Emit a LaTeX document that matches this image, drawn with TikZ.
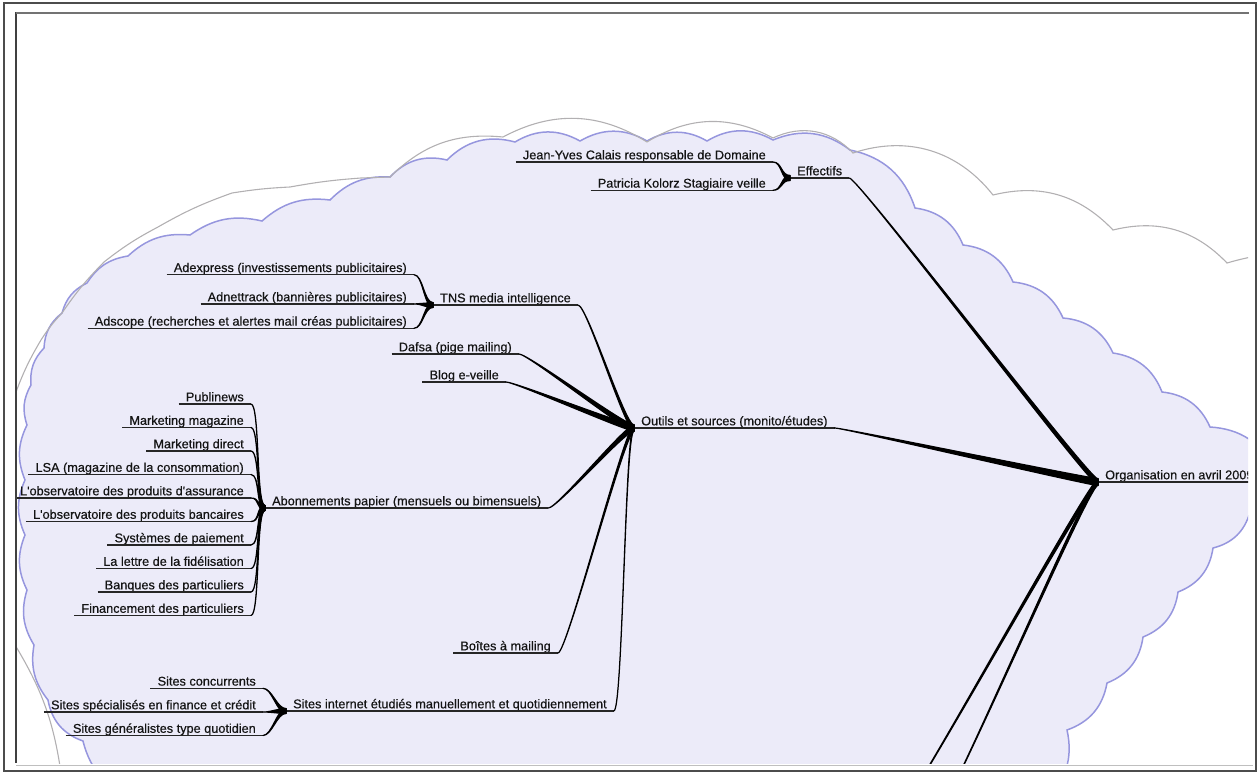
\documentclass[tikz,border=0pt]{standalone}
\usepackage{fontspec}
\setmainfont{Liberation Sans}
\newfontfamily\mapfont{Liberation Sans}[FakeBold=0.5]
\usetikzlibrary{positioning,calc}

\definecolor{cloudfill}{RGB}{236,235,249}
\definecolor{cloudedge}{RGB}{150,150,222}
\definecolor{outeredge}{RGB}{178,176,178}

\tikzset{
  topic/.style={font=\mapfont\fontsize{12.7}{15}\selectfont, text=black!92, inner xsep=7pt, inner ysep=2.5pt,
    text height=9.3pt, text depth=0pt,
    append after command={(\tikzlastnode.south west) edge[black!85, line width=1.3pt] (\tikzlastnode.south east)}},
  branch/.style={fill=black, draw=black, line width=1.2pt, line join=round},
  scallop/.style={bend left=30},
  ripple/.style={bend left=24},
}

% tapered connector: [half width at parent]{child end}{parent end}
\newcommand{\twig}[3][2.4]{%
  \filldraw[branch] (#2) .. controls ($(#2)+(9,0)$) and ($(#3)+(-9,#1)$) .. ($(#3)+(0,#1)$)
    -- ($(#3)+(0,-#1)$) .. controls ($(#3)+(-9,-#1)$) and ($(#2)+(9,0)$) .. cycle;}

\begin{document}
\begin{tikzpicture}[x=1pt, y=-1pt]
  \useasboundingbox (0,0) rectangle (1260,773);

  \begin{scope}
    \clip (17,14) rectangle (1248,763);

    % Clouds
    \filldraw[fill=cloudfill, draw=cloudedge, line width=1.5pt]
      (140,800) to[scallop] (83,741) to[scallop] (48,700) to[ripple] (34,645)
      to[ripple] (27,590) to[ripple] (25,535) to[ripple] (25,480) to[ripple] (27,425) to[ripple] (31,385)
      to[ripple] (44,348) to[ripple] (62,313) to[ripple] (87,283) to[ripple] (128,256)
      to[ripple] (190,235) to[ripple] (262,221) to[ripple] (330,200) to[ripple] (390,177)
      to[scallop] (447,160) to[scallop] (515,142) to[scallop] (580,141) to[scallop] (647,141)
      to[scallop] (707,141) to[scallop] (773,140) to[scallop] (850,150) to[scallop] (915,208)
      to[scallop] (963,245) to[scallop] (1013,282) to[scallop] (1063,318) to[scallop] (1113,353)
      to[scallop] (1162,392) to[scallop] (1210,427) to[scallop] (1275,470) to[scallop] (1250,512)
      to[scallop] (1213,548) to[scallop] (1178,592) to[scallop] (1143,637) to[scallop] (1107,683)
      to[scallop] (1067,730) to[scallop] (1045,800) -- cycle;
    \draw[outeredge, line width=1.1pt]
      (62,780) to[bend right=12] (12,640) to[bend left=20] (-10,520) to[bend left=15] (16,392)
      to[bend left=5] (41,340) to[bend left=5] (62,313) to[bend left=5] (104,262)
      to[bend left=5] (158,227) to[bend left=5] (232,193) to[bend left=3] (290,187)
      to[bend left=3] (361,178) -- (390,177)
      to[bend left=25] (503,137) to[bend left=30] (647,142) to[bend left=30] (773,138)
      to[bend left=36] (853,153) to[bend left=35] (993,195) to[bend left=30] (1113,230)
      to[bend left=30] (1227,263) to[bend left=10] (1300,255);

    % Root
    \node[topic, anchor=south west] (org) at (1098,482) {Organisation en avril 2009};

    % Effectifs
    \node[topic, anchor=south west] (eff) at (790,178) {Effectifs};
    \node[topic, anchor=south east] (calais) at (773,162) {Jean-Yves Calais responsable de Domaine};
    \node[topic, below=13.6pt of calais.south east, anchor=north east] (kolorz) {Patricia Kolorz Stagiaire veille};

    % Outils et sources
    \node[topic, anchor=south west] (outils) at (634,428) {Outils et sources (monito/études)};

    % TNS
    \node[topic, anchor=south west] (tns) at (433,305) {TNS media intelligence};
    \node[topic, anchor=south east] (adnet) at (414,304) {Adnettrack (bannières publicitaires)};
    \node[topic, above=14.6pt of adnet.north east, anchor=south east] (adex) {Adexpress (investissements publicitaires)};
    \node[topic, below=9.6pt of adnet.south east, anchor=north east] (adscope) {Adscope (recherches et alertes mail créas publicitaires)};

    \node[topic, anchor=south east] (dafsa) at (519,354) {Dafsa (pige mailing)};
    \node[topic, anchor=south east] (blog) at (506,382) {Blog e-veille};

    % Abonnements
    \node[topic, anchor=south west] (abo) at (265,508) {Abonnements papier (mensuels ou bimensuels)};
    \node[topic, anchor=south east] (publi) at (251,404) {Publinews};
    \node[topic, below=8.8pt of publi.south east, anchor=north east] (mkmag) {Marketing magazine};
    \node[topic, below=8.8pt of mkmag.south east, anchor=north east] (mkdir) {Marketing direct};
    \node[topic, below=8.8pt of mkdir.south east, anchor=north east] (lsa) {LSA (magazine de la consommation)};
    \node[topic, below=8.8pt of lsa.south east, anchor=north east] (obsass) {L\textquotesingle observatoire des produits d\textquotesingle assurance};
    \node[topic, below=8.8pt of obsass.south east, anchor=north east] (obsban) {L\textquotesingle observatoire des produits bancaires};
    \node[topic, below=8.8pt of obsban.south east, anchor=north east] (paie) {Systèmes de paiement};
    \node[topic, below=8.8pt of paie.south east, anchor=north east] (fidel) {La lettre de la fidélisation};
    \node[topic, below=8.8pt of fidel.south east, anchor=north east] (banq) {Banques des particuliers};
    \node[topic, below=8.8pt of banq.south east, anchor=north east] (finan) {Financement des particuliers};

    \node[topic, anchor=south east] (boites) at (558,653) {Boîtes à mailing};

    % Sites internet
    \node[topic, anchor=south west] (sites) at (286,711) {Sites internet étudiés manuellement et quotidiennement};
    \node[topic, anchor=south east] (sitespec) at (263,712) {Sites spécialisés en finance et crédit};
    \node[topic, above=9pt of sitespec.north east, anchor=south east] (sitecon) {Sites concurrents};
    \node[topic, below=8.8pt of sitespec.south east, anchor=north east] (sitegen) {Sites généralistes type quotidien};

    % Off-picture branches of the root
    \coordinate (down1) at (897,815);
    \coordinate (down2) at (937,815);

    % Edges
    \twig[3.5]{outils.south east}{org.south west}
    \twig[3]{eff.south east}{org.south west}
    \twig[3]{down1}{org.south west}
    \twig[3]{down2}{org.south west}

    \twig[2.5]{calais.south east}{eff.south west}
    \twig[2.5]{kolorz.south east}{eff.south west}

    \twig[3]{tns.south east}{outils.south west}
    \twig[3]{dafsa.south east}{outils.south west}
    \twig[3]{blog.south east}{outils.south west}
    \twig[3]{abo.south east}{outils.south west}
    \twig[3]{boites.south east}{outils.south west}
    \twig[3]{sites.south east}{outils.south west}

    \twig{adex.south east}{tns.south west}
    \twig{adnet.south east}{tns.south west}
    \twig{adscope.south east}{tns.south west}

    \twig{publi.south east}{abo.south west}
    \twig{mkmag.south east}{abo.south west}
    \twig{mkdir.south east}{abo.south west}
    \twig{lsa.south east}{abo.south west}
    \twig{obsass.south east}{abo.south west}
    \twig{obsban.south east}{abo.south west}
    \twig{paie.south east}{abo.south west}
    \twig{fidel.south east}{abo.south west}
    \twig{banq.south east}{abo.south west}
    \twig{finan.south east}{abo.south west}

    \twig{sitecon.south east}{sites.south west}
    \twig{sitespec.south east}{sites.south west}
    \twig{sitegen.south east}{sites.south west}
  \end{scope}

  % Frame
  \draw[black!70, line width=1.2pt] (4,3) rectangle (1256,771);
  \draw[black!75, line width=2pt] (16,12) -- (16,763);
  \draw[black!55, line width=1.6pt] (16,13) -- (1249,13);
  \draw[black!25, line width=1pt] (16,765) -- (1253,765);
\end{tikzpicture}
\end{document}
